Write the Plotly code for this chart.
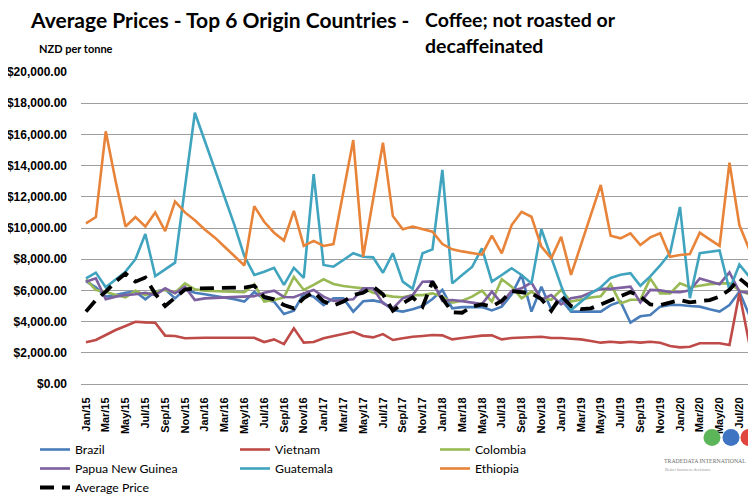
import plotly.graph_objects as go

months = ["Jan", "Feb", "Mar", "Apr", "May", "Jun", "Jul", "Aug", "Sep", "Oct", "Nov", "Dec"]
labels = [f"{m}/{y}" for y in range(15, 21) for m in months][:69]
tick_labels = labels[::2]

brazil = [6600, 6200, 5600, 5700, 5850, 5920, 5430, 5920, 6070, 5490, 6070, 5850, 5750, 5650, 5560, 5430, 5280,
          5900, 5450, 5280, 4490, 4700, 5800, 5600, 5060, 5500, 5490, 4640, 5300, 5360, 5220, 4740, 4640, 4790,
          5000, 5450, 6030, 4850, 4930, 4930, 4930, 4720, 4960, 5750, 6990, 4640, 6240, 4770, 5400, 4640, 4640,
          4640, 4640, 5060, 5280, 3930, 4340, 4420, 4960, 5060, 5060, 5000, 4960, 4790, 4640, 5060, 5920, 4420, 4420]
vietnam = [2670, 2820, 3140, 3460, 3720, 3990, 3950, 3930, 3100, 3080, 2930, 2960, 2960, 2960, 2960, 2960, 2960,
           2960, 2690, 2860, 2560, 3570, 2650, 2690, 2930, 3080, 3200, 3350, 3080, 2990, 3200, 2820, 2930, 3030,
           3080, 3140, 3120, 2860, 2950, 3030, 3100, 3120, 2860, 2950, 2970, 2990, 3030, 2950, 2950, 2900, 2860,
           2760, 2650, 2710, 2650, 2710, 2650, 2710, 2650, 2440, 2350, 2390, 2610, 2610, 2610, 2500, 5810, 2600, 2500]
colombia = [6710, 6030, 5920, 5700, 5560, 5980, 5700, 5920, 6030, 5850, 6450, 6070, 5980, 5950, 5920, 5900, 5880,
            6400, 5280, 5380, 5550, 6860, 6030, 6350, 6710, 6410, 6280, 6200, 6130, 5850, 5700, 5600, 5560, 5700,
            5700, 5810, 5600, 5210, 5340, 5600, 5980, 5280, 6710, 6240, 5490, 5920, 5490, 5400, 6030, 5280, 5430,
            5550, 5630, 6400, 5170, 5400, 5400, 6770, 5810, 5810, 6450, 6200, 6300, 6400, 6450, 6450, 6000, 5750, 6030]
png = [6560, 6770, 5430, 5600, 5700, 5750, 5850, 5700, 6130, 5810, 6240, 5380, 5490, 5520, 5550, 5580, 5600,
       5630, 5850, 5980, 5580, 5560, 5810, 6030, 5600, 5330, 5380, 5430, 6130, 6130, 5170, 4850, 5490, 5700,
       6560, 6580, 5330, 5380, 5310, 5200, 5120, 5920, 5170, 5970, 6130, 6500, 5400, 5700, 5100, 5500, 5600,
       5860, 6100, 6100, 6150, 6240, 5230, 6030, 6000, 5900, 5880, 6000, 6770, 6560, 6400, 7160, 5920, 5850, 5790]
guatemala = [6770, 7140, 6200, 6710, 7200, 8000, 9620, 6920, 7350, 7780, 12600, 17390, 15590, 13790, 11980, 10180,
             8200, 6990, 7200, 7450, 6350, 7450, 6800, 13460, 7630, 7520, 7950, 8380, 8160, 8120, 7130, 8380, 6560,
             6100, 8380, 8630, 13720, 6450, 6990, 7500, 8700, 6560, 6990, 7420, 6990, 6450, 9920, 8060, 6300, 4740,
             5300, 5800, 6200, 6800, 7000, 7100, 6300, 6900, 7600, 8400, 11350, 5500, 8380, 8480, 8560, 6030, 7660,
             6880, 6400]
ethiopia = [10300, 10700, 16200, 13000, 10100, 10700, 10100, 11000, 9800, 11700, 11000, 10500, 9900, 9400, 8800,
            8200, 7600, 11400, 10400, 9700, 9200, 11100, 8850, 9170, 8850, 8970, 12300, 15640, 8160, 11800, 15470,
            10770, 9920, 10090, 9920, 9760, 8970, 8630, 8500, 8380, 8290, 9510, 8380, 10190, 11040, 10720, 8800,
            8060, 9440, 7000, 8900, 10800, 12760, 9510, 9340, 9660, 8910, 9400, 9660, 8160, 8270, 8330, 9700, 9270,
            8850, 14190, 10190, 8630, 9700]
average = [4640, 5380, 5920, 6560, 7080, 6560, 6820, 5780, 5000, 5500, 6050, 6130, 6130, 6130, 6130, 6130, 6180,
           6300, 5580, 5430, 5060, 4850, 5500, 5900, 5300, 5030, 5280, 5700, 5850, 6240, 5750, 4700, 5170, 5550,
           4960, 6560, 5490, 4600, 4570, 4960, 5100, 4960, 5330, 5950, 5850, 5810, 5440, 4690, 5650, 5000, 4800,
           4850, 5100, 5380, 5600, 5900, 5600, 5100, 5060, 5200, 5380, 5230, 5300, 5380, 5600, 6030, 6770, 6240, 5810]

series = [
    ("Brazil", brazil, "#4A7EBB", "legend"),
    ("Vietnam", vietnam, "#BE4B48", "legend2"),
    ("Colombia", colombia, "#98B954", "legend3"),
    ("Papua New Guinea", png, "#7D60A0", "legend"),
    ("Guatemala", guatemala, "#40A4BF", "legend2"),
    ("Ethiopia", ethiopia, "#E8843A", "legend3"),
]

# page body has an 8px default margin: figure coordinate = page coordinate - 8
OFF = 8
W, H = 756 - OFF, 499 - OFF
L, T = 81 - OFF, 72 - OFF
R = 0
B = H - (384 - OFF)
PW, PH = W - L - R, H - T - B


def px(xpage):
    return (xpage - OFF - L) / PW


def py(ypage):
    return 1 + (T - (ypage - OFF)) / PH


fig = go.Figure()
for name, vals, col, lg in series:
    fig.add_trace(go.Scatter(x=labels, y=vals, mode="lines", name=name, legend=lg,
                             line=dict(color=col, width=2.6)))
fig.add_trace(go.Scatter(x=labels, y=average, mode="lines", name="Average Price", legend="legend",
                         line=dict(color="black", width=3.8, dash="14px,8px")))

leg_font = dict(family="Lato", size=12.3, color="black")
leg_common = dict(orientation="v", xref="container", yref="container", y=1 - 427 / H,
                  xanchor="left", yanchor="top", font=leg_font, bgcolor="rgba(0,0,0,0)",
                  traceorder="normal")

fig.update_layout(
    width=W, height=H,
    margin=dict(l=L, r=R, t=T, b=B, autoexpand=False),
    plot_bgcolor="white", paper_bgcolor="white",
    font=dict(family="Lato", color="black"),
    showlegend=True,
    legend=dict(x=27 / W, **leg_common),
    legend2=dict(x=227 / W, **leg_common),
    legend3=dict(x=427 / W, **leg_common),
    xaxis=dict(type="category", range=[-0.5, 67.68], tickvals=tick_labels, ticktext=tick_labels,
               tickangle=-90, showgrid=False, showline=True, linecolor="#9e9e9e", linewidth=1,
               tickfont=dict(family="Liberation Sans", size=11, weight="bold", color="black"),
               ticks="", ticklabelstandoff=8, automargin=False),
    yaxis=dict(range=[0, 20000], dtick=2000, tickprefix="$", tickformat=",.2f",
               showgrid=True, gridcolor="#9e9e9e", gridwidth=1, zeroline=False,
               tickfont=dict(family="Liberation Sans", size=12, weight="bold", color="black"),
               ticks="", ticklabelstandoff=13, automargin=False),
)

annotations = [
    dict(text="<b>Average Prices - Top 6 Origin Countries -</b>", x=28, y=20, size=21),
    dict(text="<b>Coffee; not roasted or</b>", x=423, y=20, size=19.5),
    dict(text="<b>decaffeinated</b>", x=423, y=45, size=19.5),
    dict(text="<b>NZD per tonne</b>", x=37, y=48, size=11),
]
for a in annotations:
    fig.add_annotation(text=a["text"], xref="paper", yref="paper",
                       x=px(a["x"]), y=py(a["y"]),
                       xanchor="left", yanchor="middle", showarrow=False,
                       font=dict(family="Lato", size=a["size"], color="black"))

# logo
for cx, col in [(712, "#5DB55A"), (731, "#3E74C2"), (749, "#E0453F")]:
    fig.add_shape(type="circle", xref="paper", yref="paper",
                  x0=px(cx - 8.5), x1=px(cx + 8.5), y0=py(446), y1=py(429),
                  fillcolor=col, line=dict(width=0), layer="above")
fig.add_annotation(text="TRADEDATA INTERNATIONAL", xref="paper", yref="paper",
                   x=px(705), y=py(461), xanchor="center", yanchor="middle",
                   showarrow=False, font=dict(family="Liberation Serif", size=5.8, color="#6d6d6d"))
fig.add_annotation(text="Better business decisions", xref="paper", yref="paper",
                   x=px(663), y=py(469), xanchor="left", yanchor="middle",
                   showarrow=False, font=dict(family="Liberation Serif", size=4.5, color="#999999"))

fig.write_html("out.html")
